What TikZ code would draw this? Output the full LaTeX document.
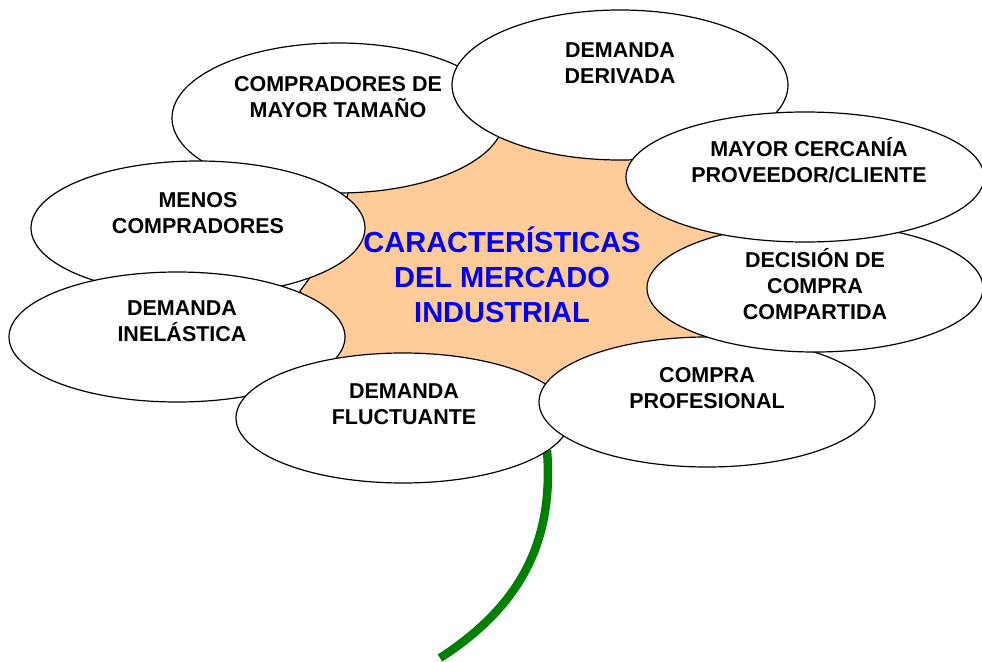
\documentclass[tikz,border=0pt]{standalone}
\usepackage{fontspec}
\setmainfont{Liberation Sans}
\usetikzlibrary{shapes.geometric}
\definecolor{petalo}{HTML}{FFCC99}
\definecolor{tallo}{HTML}{008000}
\begin{document}
\begin{tikzpicture}[x=1pt, y=-1pt, line join=round, line cap=round,
    oval/.style={ellipse, draw=black, fill=white, line width=1.2pt, inner sep=0pt},
    rotulo/.style={align=center, font=\bfseries\fontsize{21.5}{25.8}\selectfont},
    titulo/.style={align=center, text=blue, font=\bfseries\fontsize{29}{35}\selectfont}]
    \useasboundingbox (0,0) rectangle (982,661);
    \coordinate (t1) at (500,125); \coordinate (t2) at (690,150);
    \coordinate (t3) at (724,234); \coordinate (t4) at (760,345);
    \coordinate (t5) at (545,395); \coordinate (t6) at (320,365);
    \coordinate (t7) at (300,291); \coordinate (t8) at (350,185);
    \draw[fill=petalo, line width=1.2pt, line join=miter] (t1) \foreach \i in {2,...,8} {to[bend right=12] (t\i)} to[bend right=12] (t1) -- cycle;
    \node[titulo] (centro) at (502,275) {CARACTERÍSTICAS\\DEL MERCADO\\INDUSTRIAL};
    \coordinate (raiz) at (547,450); \coordinate (punta) at (440,658);
    \draw[tallo, line width=8.5pt, line cap=butt] (raiz) .. controls (554,540) and (522,605) .. (punta);
    \node[oval, minimum width=332pt, minimum height=150pt] (mayor) at (338,118) {};
    \node[rotulo] (tmayor) at (338,97) {COMPRADORES DE\\MAYOR TAMAÑO};
    \node[oval, minimum width=336pt, minimum height=150pt] (derivada) at (620,85) {};
    \node[rotulo] (tderivada) at (620,63) {DEMANDA\\DERIVADA};
    \node[oval, minimum width=334pt, minimum height=134pt] (menos) at (198,228) {};
    \node[rotulo] (tmenos) at (198,213) {MENOS\\COMPRADORES};
    \node[oval, minimum width=336pt, minimum height=130pt] (inelastica) at (177,337) {};
    \node[rotulo] (tinelastica) at (182,321) {DEMANDA\\INELÁSTICA};
    \node[oval, minimum width=334pt, minimum height=130pt] (fluctuante) at (403,418) {};
    \node[rotulo] (tfluctuante) at (404,404) {DEMANDA\\FLUCTUANTE};
    \node[oval, minimum width=336pt, minimum height=130pt] (profesional) at (707,402) {};
    \node[rotulo] (tprofesional) at (707,388) {COMPRA\\PROFESIONAL};
    \node[oval, minimum width=336pt, minimum height=128pt] (compartida) at (815,288) {};
    \node[rotulo] (tcompartida) at (815,284) {DECISIÓN DE\\COMPRA\\COMPARTIDA};
    \node[oval, minimum width=358pt, minimum height=130pt] (cercania) at (805,177) {};
    \node[rotulo] (tcercania) at (809,160) {MAYOR CERCANÍA\\PROVEEDOR/CLIENTE};
\end{tikzpicture}
\end{document}
